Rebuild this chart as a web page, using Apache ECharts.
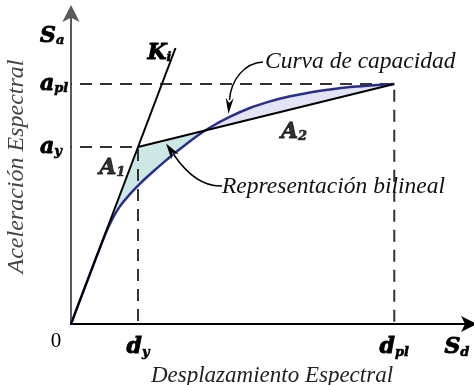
<!DOCTYPE html>
<html>
<head>
<meta charset="utf-8">
<script src="https://cdn.jsdelivr.net/npm/echarts@6/dist/echarts.min.js"></script>
<style>
  html, body { margin: 0; padding: 0; background: #fff; }
  #chart { width: 474px; height: 385px; }
</style>
</head>
<body>
<div id="chart"></div>
<script>
// Capacity curve (spectral displacement vs spectral acceleration)
const capacityDisp = [0, 0.99, 1.22, 1.46, 1.76, 2.06, 2.42, 2.81, 3.25, 3.70, 4.15, 4.75, 5.34, 5.94, 6.54, 7.13, 7.73, 8.33, 8.93, 9.65];
const capacityAccel = [0, 0.29, 0.347, 0.392, 0.433, 0.468, 0.505, 0.543, 0.583, 0.622, 0.655, 0.691, 0.720, 0.742, 0.759, 0.772, 0.782, 0.790, 0.795, 0.80];

// Bilinear representation: origin, yield point (dy, ay), plastic point (dpl, apl)
const bilinearDisp = [0, 2.0, 9.65];
const bilinearAccel = [0, 0.59, 0.80];

// Initial stiffness line Ki, drawn from the origin past the yield point
const stiffnessDisp = [0, 3.12];
const stiffnessAccel = [0, 0.92];

// Axis labels
const xLabelValues = [0, 2.0, 9.65, 11.52];
const xLabelTexts = ['{z|0}', '{m|d}{s|y}', '{m|d}{s|pl}', '{m|S}{s|d}'];
const yLabelValues = [0.59, 0.80, 0.96];
const yLabelTexts = ['{m|a}{s|y}', '{m|a}{s|pl}', '{m|S}{s|a}'];

// Area names and where they sit
const areaNames = ['{m|A}{s|1}', '{m|A}{s|2}'];
const areaNameDisp = [1.23, 6.66];
const areaNameAccel = [0.52, 0.64];

const dy = bilinearDisp[1], ay = bilinearAccel[1];
const dpl = bilinearDisp[2], apl = bilinearAccel[2];

const curve = capacityDisp.map((x, i) => [x, capacityAccel[i]]);

// Post-yield branch of the bilinear model
function postYield(x) { return ay + (apl - ay) * (x - dy) / (dpl - dy); }

// Where the capacity curve crosses the post-yield branch
let cross = null, crossIdx = 0;
for (let i = 1; i < curve.length; i++) {
  const d0 = curve[i - 1][1] - postYield(curve[i - 1][0]);
  const d1 = curve[i][1] - postYield(curve[i][0]);
  if (d0 < 0 && d1 >= 0) {
    const t = -d0 / (d1 - d0);
    const x = curve[i - 1][0] + t * (curve[i][0] - curve[i - 1][0]);
    cross = [x, postYield(x)];
    crossIdx = i;
    break;
  }
}

// Area A1: between bilinear model and curve up to the crossing
const areaA1 = [[0, 0], [dy, ay], cross].concat(curve.slice(0, crossIdx).reverse());
// Area A2: between curve and post-yield branch after the crossing
const areaA2 = [cross].concat(curve.slice(crossIdx));

function findText(values, texts, v) {
  for (let i = 0; i < values.length; i++) if (Math.abs(values[i] - v) < 1e-6) return texts[i];
  return '';
}

const labelFont = '"DejaVu Serif", serif';
const richLabels = {
  m: { fontFamily: labelFont, fontSize: 22, fontWeight: 'bold', fontStyle: 'italic', color: '#000',
       textBorderColor: '#000', textBorderWidth: 0.9 },
  s: { fontFamily: labelFont, fontSize: 13, fontWeight: 'bold', fontStyle: 'italic', color: '#000',
       textBorderColor: '#000', textBorderWidth: 0.6, padding: [10, 0, 0, 0] },
  z: { fontFamily: '"Liberation Serif", serif', fontSize: 21, color: '#000', lineHeight: 10, padding: [0, 30, 0, 0] }
};

// Curved annotation arrow: cubic bezier ending in a filled head
function arrow(p0, c1, c2, p1, headLen, headHalf) {
  const dx = p1[0] - c2[0], dy2 = p1[1] - c2[1];
  const L = Math.hypot(dx, dy2);
  const ux = dx / L, uy = dy2 / L;
  const tip = [p1[0] + ux * headLen, p1[1] + uy * headLen];
  const back = [p1[0] - ux * 2, p1[1] - uy * 2];
  return [
    { type: 'bezierCurve', shape: { x1: p0[0], y1: p0[1], cpx1: c1[0], cpy1: c1[1], cpx2: c2[0], cpy2: c2[1], x2: p1[0], y2: p1[1] },
      style: { stroke: '#000', lineWidth: 1.5, fill: null }, z: 10 },
    { type: 'polygon', shape: { points: [tip, [back[0] - uy * headHalf, back[1] + ux * headHalf], [p1[0] + ux * 3, p1[1] + uy * 3], [back[0] + uy * headHalf, back[1] - ux * headHalf]] },
      style: { fill: '#000' }, z: 10 }
  ];
}

const textFont = '"Liberation Serif", serif';

const chart = echarts.init(document.getElementById('chart'), null, { renderer: 'canvas' });
chart.setOption({
  animation: false,
  backgroundColor: '#fff',
  grid: { left: 71, right: 1, top: 9, bottom: 61, outerBoundsMode: 'none', containLabel: false },
  xAxis: {
    type: 'value', min: 0, max: 12,
    splitLine: { show: false },
    axisTick: { show: false },
    axisLine: { onZero: false, lineStyle: { color: '#000', width: 2 }, symbol: ['none', 'arrow'], symbolSize: [12, 16], symbolOffset: [0, 4] },
    axisLabel: {
      customValues: xLabelValues,
      formatter: v => findText(xLabelValues, xLabelTexts, v),
      margin: 12,
      rich: richLabels
    },
    name: 'Desplazamiento Espectral',
    nameLocation: 'middle',
    nameGap: 34,
    nameTextStyle: { fontFamily: textFont, fontStyle: 'italic', fontSize: 23, color: '#222' }
  },
  yAxis: {
    type: 'value', min: 0, max: 1.05,
    splitLine: { show: false },
    axisTick: { show: false },
    axisLine: { onZero: false, lineStyle: { color: '#5a5a5a', width: 2 }, symbol: ['none', 'arrow'], symbolSize: [13, 17], symbolOffset: [0, 4] },
    axisLabel: {
      customValues: yLabelValues,
      formatter: v => findText(yLabelValues, yLabelTexts, v),
      margin: 31,
      align: 'left',
      rich: richLabels
    },
    name: 'Aceleración Espectral',
    nameLocation: 'middle',
    nameGap: 28,
    nameTextStyle: { fontFamily: textFont, fontStyle: 'italic', fontSize: 24, color: '#444' }
  },
  series: [
    {
      type: 'custom',
      silent: true,
      z: 1,
      data: [[0, 0]],
      renderItem: (params, api) => ({
        type: 'group',
        children: [
          { type: 'polygon', shape: { points: areaA1.map(p => api.coord(p)) }, style: { fill: '#cbe8e4' } },
          { type: 'polygon', shape: { points: areaA2.map(p => api.coord(p)) }, style: { fill: '#e3e3f6' } }
        ]
      })
    },
    {
      type: 'line', z: 2, symbol: 'none', silent: true,
      data: [[0, apl], [dpl, apl], [dpl, 0]],
      lineStyle: { color: '#333', width: 2, type: [12, 8], dashOffset: 11 }
    },
    {
      type: 'line', z: 2, symbol: 'none', silent: true,
      data: [[0, ay], [dy, ay], [dy, 0]],
      lineStyle: { color: '#333', width: 2, type: [12, 8], dashOffset: 11 }
    },
    {
      type: 'line', z: 4, symbol: 'none', silent: true, smooth: 0.3,
      data: curve,
      lineStyle: { color: '#2b2e86', width: 2.5 }
    },
    {
      type: 'line', z: 5, symbol: 'none', silent: true,
      data: stiffnessDisp.map((x, i) => [x, stiffnessAccel[i]]),
      lineStyle: { color: '#000', width: 2 },
      endLabel: {
        show: true,
        formatter: '{m|K}{s|i}',
        rich: richLabels,
        align: 'right',
        offset: [-12, 5]
      }
    },
    {
      type: 'line', z: 5, symbol: 'none', silent: true,
      data: bilinearDisp.slice(1).map((x, i) => [x, bilinearAccel[i + 1]]),
      lineStyle: { color: '#000', width: 2 }
    },
    {
      type: 'scatter', z: 6, silent: true, symbolSize: 0,
      data: areaNameDisp.map((x, i) => ({ value: [x, areaNameAccel[i]], name: areaNames[i] })),
      label: {
        show: true, position: 'inside',
        formatter: p => p.name,
        rich: richLabels
      }
    }
  ]
});

chart.setOption({
  graphic: [
    { type: 'text', x: 265, y: 62, z: 10,
      style: { text: 'Curva de capacidad', font: 'italic 23.5px ' + textFont, fill: '#111', align: 'left', verticalAlign: 'middle' } },
    { type: 'text', x: 222, y: 187, z: 10,
      style: { text: 'Representación bilineal', font: 'italic 23.5px ' + textFont, fill: '#111', align: 'left', verticalAlign: 'middle' } }
  ]
    .concat(arrow([263, 62], [244, 63], [231, 80], [229.5, 100], 14, 4))
    .concat(arrow([222, 186], [200, 187], [183, 168], [174, 155], 14, 4.5))
});
</script>
</body>
</html>
